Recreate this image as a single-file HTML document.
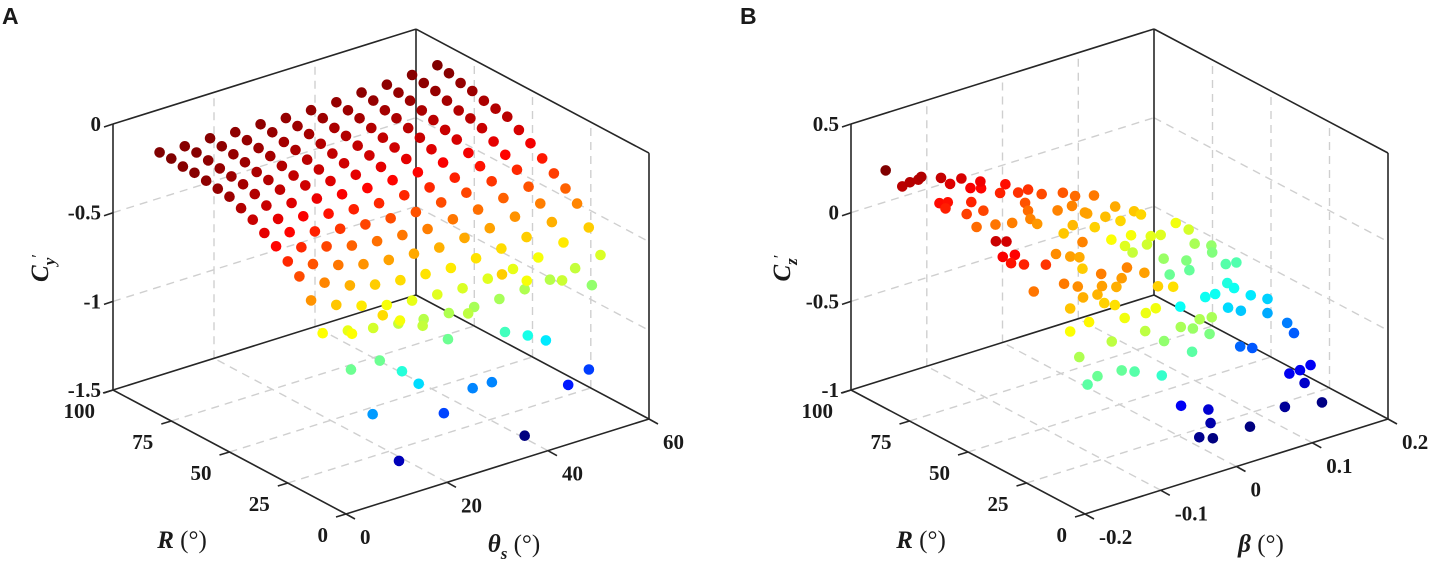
<!DOCTYPE html>
<html><head><meta charset="utf-8"><title>3D scatter panels</title>
<style>
html,body{margin:0;padding:0;background:#fff;}
svg{display:block;}
text{font-family:"Liberation Serif","DejaVu Serif",serif;fill:#1a1a1a;}
.tick{font-size:21px;font-weight:bold;}
.title{font-size:25px;}
.panel{font-family:"Liberation Sans",sans-serif;font-size:23px;font-weight:bold;}
</style></head>
<body>
<svg id="fig" width="1433" height="567" viewBox="0 0 1433 567" xmlns="http://www.w3.org/2000/svg">
  <text class="panel" x="2" y="24">A</text>
  <text class="panel" x="740" y="24">B</text>
  <g id="pa"></g>
  <g id="pb"></g>
  <text class="title" transform="translate(48,268) rotate(-90)" text-anchor="middle"><tspan font-weight="bold" font-style="italic">C</tspan><tspan font-weight="bold" font-style="italic" font-size="17" dy="7">y</tspan><tspan font-size="17" dy="-12">′</tspan></text>
  <text class="title" x="182" y="548" text-anchor="middle"><tspan font-weight="bold" font-style="italic">R</tspan> (°)</text>
  <text class="title" x="514" y="552" text-anchor="middle"><tspan font-weight="bold" font-style="italic">θ</tspan><tspan font-weight="bold" font-style="italic" font-size="17" dy="7">s</tspan><tspan dy="-7"> (°)</tspan></text>
  <text class="title" transform="translate(790,268) rotate(-90)" text-anchor="middle"><tspan font-weight="bold" font-style="italic">C</tspan><tspan font-weight="bold" font-style="italic" font-size="17" dy="7">z</tspan><tspan font-size="17" dy="-12">′</tspan></text>
  <text class="title" x="921" y="548" text-anchor="middle"><tspan font-weight="bold" font-style="italic">R</tspan> (°)</text>
  <text class="title" x="1261" y="552" text-anchor="middle"><tspan font-weight="bold" font-style="italic">β</tspan> (°)</text>
</svg>
<script>
// ---------- Panel A data ----------
const thetaA = [0,5,10,15,20,25,30,35,40,45,50,55];
const RA = [80,75,70,65,60,55,50,45,40,35,30,25,20,15,10];
const CyA = [
[-0.02,-0.03,-0.03,-0.04,-0.04,-0.05,-0.05,-0.05,-0.04,-0.04,-0.03,-0.02],
[-0.02,-0.03,-0.04,-0.05,-0.05,-0.06,-0.06,-0.06,-0.05,-0.05,-0.04,-0.03],
[-0.03,-0.04,-0.05,-0.06,-0.07,-0.07,-0.08,-0.07,-0.07,-0.06,-0.05,-0.05],
[-0.03,-0.05,-0.06,-0.07,-0.08,-0.09,-0.09,-0.09,-0.08,-0.08,-0.07,-0.06],
[-0.04,-0.06,-0.08,-0.09,-0.10,-0.11,-0.11,-0.11,-0.10,-0.10,-0.09,-0.08],
[-0.05,-0.07,-0.09,-0.11,-0.12,-0.13,-0.13,-0.13,-0.12,-0.12,-0.10,-0.09],
[-0.06,-0.09,-0.11,-0.13,-0.15,-0.16,-0.16,-0.16,-0.15,-0.14,-0.12,-0.10],
[-0.09,-0.12,-0.15,-0.17,-0.19,-0.20,-0.20,-0.20,-0.19,-0.18,-0.16,-0.14],
[-0.12,-0.16,-0.19,-0.22,-0.24,-0.25,-0.25,-0.25,-0.24,-0.22,-0.20,-0.18],
[-0.16,-0.20,-0.24,-0.27,-0.29,-0.30,-0.31,-0.30,-0.29,-0.27,-0.25,-0.23],
[-0.20,-0.25,-0.29,-0.33,-0.35,-0.36,-0.37,-0.36,-0.35,-0.33,-0.31,-0.28],
[-0.25,-0.31,-0.36,-0.40,-0.42,-0.43,-0.44,-0.43,-0.42,-0.40,-0.37,-0.33],
[-0.30,-0.38,-0.44,-0.48,-0.50,-0.51,-0.52,-0.51,-0.50,-0.48,-0.44,-0.38],
[-0.40,-0.47,-0.52,-0.56,-0.58,-0.59,-0.60,-0.59,-0.58,-0.56,-0.52,-0.48],
[-0.55,-0.58,-0.61,-0.63,-0.65,-0.66,-0.67,-0.67,-0.66,-0.65,-0.63,-0.60]
];
const lowTheta = [3.5,9.6,13.0,17.5,22.5,26.5,33.8,38.3,41.9,3.3,9.0,13.4,16.7,27.4,31.2,50.4,46.3,7.6,21.7,37.7,12.8,51.0,45.1,38.1,33.2];
const lowR = [5,5,5,5,5,5,5,5,5,5,5,5,5,5,5,5,5,5,5,5,5,5,5,5,5];
const lowCy = [-0.55,-0.50,-0.56,-0.63,-0.75,-0.64,-0.81,-0.87,-0.93,-0.75,-0.75,-0.85,-0.95,-1.07,-1.07,-1.17,-1.22,-1.04,-1.16,-1.43,-1.35,-0.70,-0.62,-0.56,-0.48];
const zTicksA = [0,-0.5,-1,-1.5];
const zTickLabelsA = ["0","-0.5","-1","-1.5"];
const rTicks = [0,25,50,75,100];
const rTickLabels = ["0","25","50","75","100"];
const thetaTicks = [0,20,40,60];
const thetaTickLabels = ["0","20","40","60"];

// ---------- Panel B data ----------
const RB = [80,80,80,80,80,80,80,80,80,80,80,80,80,80,80,80,80,80,40,40,40,40,40,40,40,40,80,80,80,80,80,80,80,80,80,80,80,80,60,40,40,40,40,60,60,60,80,80,60,80,40,40,40,40,40,40,80,80,80,80,80,80,80,80,80,80,40,40,40,40,40,40,80,80,80,80,80,80,80,80,40,40,40,40,40,40,40,80,40,40,80,80,80,80,80,80,80,80,40,40,40,40,40,40,40,80,80,80,80,80,80,80,80,80,40,40,40,80,80,80,80,80,80,80,80,80,80,80,80,80,80,80,80,80,80,80];
const betaB = [-0.216,-0.194,-0.184,-0.173,-0.169,-0.145,-0.134,-0.137,-0.109,-0.096,-0.143,-0.131,-0.116,-0.104,-0.090,-0.103,-0.087,-0.071,
-0.194,-0.180,-0.185,-0.169,-0.157,-0.174,-0.144,-0.128,
-0.049,-0.091,-0.065,-0.058,-0.041,-0.028,-0.032,-0.028,-0.025,-0.016,-0.010,0.011,
-0.053,-0.104,-0.096,-0.079,-0.086,-0.034,-0.022,-0.018,0.019,0.031,-0.018,0.050,
-0.060,-0.054,-0.055,-0.051,-0.037,-0.028,
0.018,0.034,0.030,0.047,0.060,0.074,0.082,0.100,0.108,0.110,
-0.021,0.002,-0.035,-0.071,-0.096,-0.084,
0.059,0.087,0.094,0.112,0.134,0.129,0.147,0.151,
0.020,0.040,-0.024,0.004,0.017,0.003,-0.041,0.173,0.050,0.028,
0.121,0.159,0.181,0.192,0.185,0.214,0.206,0.219,
0.075,0.091,0.066,-0.060,-0.073,-0.028,-0.011,
0.167,0.184,0.215,0.233,0.247,0.235,0.244,0.236,0.253,
0.088,0.065,0.025,
0.266,0.288,0.288,0.252,0.268,0.314,0.323,0.331,0.345,0.317,0.337,0.174,0.210,0.213,0.311,0.265,0.360,0.198,0.216];
const CzB = [0.40,0.28,0.29,0.29,0.30,0.12,0.11,0.08,0.01,-0.08,0.26,0.21,0.22,0.15,0.13,0.07,0.00,-0.10,0.25,0.23,0.15,0.14,0.07,0.10,-0.10,0.03,-0.12,0.17,0.07,0.11,0.04,0.04,-0.03,-0.08,-0.13,-0.17,-0.01,-0.13,-0.15,-0.11,-0.26,-0.22,-0.15,-0.19,-0.21,-0.28,-0.27,-0.24,-0.13,-0.20,-0.23,-0.19,-0.12,-0.29,-0.32,-0.18,-0.04,-0.08,-0.13,-0.19,-0.29,-0.25,-0.39,-0.45,-0.40,-0.50,-0.13,-0.19,-0.22,-0.37,-0.39,-0.55,-0.11,-0.21,-0.30,-0.27,-0.44,-0.48,-0.45,-0.59,-0.29,-0.32,-0.41,-0.42,-0.41,-0.52,-0.52,-0.89,-0.56,-0.61,-0.30,-0.69,-0.64,-0.56,-0.70,-0.60,-0.88,-0.88,-0.55,-0.56,-0.59,-0.69,-0.72,-0.70,-0.73,-0.41,-0.47,-0.64,-0.73,-0.74,-0.84,-0.88,-0.98,-1.02,-0.65,-0.72,-0.80,-0.95,-1.00,-1.08,-1.22,-1.25,-1.17,-1.24,-1.46,-1.45,-1.46,-1.54,-1.45,-1.52,-1.60,-1.64,-1.69,-1.68,-1.66,-1.69];
const zTicksB = [0.5,0,-0.5,-1];
const zTickLabelsB = ["0.5","0","-0.5","-1"];
const betaTicks = [-0.2,-0.1,0,0.1,0.2];
const betaTickLabels = ["-0.2","-0.1","0","0.1","0.2"];

const NS = "http://www.w3.org/2000/svg";
function jet(t){
  t = Math.max(0, Math.min(1, t));
  const c = v => Math.round(255*Math.max(0, Math.min(1, v)));
  return "rgb(" + c(1.5-Math.abs(4*t-3)) + "," + c(1.5-Math.abs(4*t-2)) + "," + c(1.5-Math.abs(4*t-1)) + ")";
}
function mk(parent, tag, attrs){
  const el = document.createElementNS(NS, tag);
  for (const k in attrs) el.setAttribute(k, attrs[k]);
  parent.appendChild(el);
  return el;
}

function drawAxes(g, P, rMax, hMin, hMax, zMin, zMax, hGrid, rGrid, zGrid, zT, zL, hT, hL, prefix){
  const gridG = mk(g, "g", {});
  
  
  function seg(parent, a, b, cls){
    const l = mk(parent, "line", {x1:a[0].toFixed(1), y1:a[1].toFixed(1), x2:b[0].toFixed(1), y2:b[1].toFixed(1)});
    if (cls === "grid"){ l.setAttribute("stroke", "#cfcfcf"); l.setAttribute("stroke-width", "1.4"); l.setAttribute("stroke-dasharray", "8,6"); }
    else { l.setAttribute("stroke", "#262626"); l.setAttribute("stroke-width", "1.6"); }
    return l;
  }
  hGrid.forEach(h => {
    const a = seg(gridG, P(rMax,h,zMin), P(rMax,h,zMax), "grid");
    
    
    const b = seg(gridG, P(0,h,zMin), P(rMax,h,zMin), "grid");
    
    
  });
  rGrid.forEach(r => {
    const a = seg(gridG, P(r,hMax,zMin), P(r,hMax,zMax), "grid");
    
    
    const b = seg(gridG, P(r,hMin,zMin), P(r,hMax,zMin), "grid");
    
    
  });
  zGrid.forEach(z => {
    const a = seg(gridG, P(rMax,hMin,z), P(rMax,hMax,z), "grid");
    
    
    const b = seg(gridG, P(rMax,hMax,z), P(0,hMax,z), "grid");
    
    
  });
  const boxG = mk(g, "g", {});
  
  
  const edges = [
    [P(rMax,hMin,zMin), P(rMax,hMin,zMax)],
    [P(rMax,hMax,zMin), P(rMax,hMax,zMax)],
    [P(0,hMax,zMin), P(0,hMax,zMax)],
    [P(rMax,hMin,zMax), P(rMax,hMax,zMax)],
    [P(rMax,hMax,zMax), P(0,hMax,zMax)],
    [P(rMax,hMin,zMin), P(rMax,hMax,zMin)],
    [P(rMax,hMax,zMin), P(0,hMax,zMin)],
    [P(rMax,hMin,zMin), P(0,hMin,zMin)],
    [P(0,hMin,zMin), P(0,hMax,zMin)]
  ];
  edges.forEach(e => {
    const l = seg(boxG, e[0], e[1], "box");
    
    
  });
  zT.forEach((z, i) => {
    const p = P(rMax,hMin,z);
    const l = seg(boxG, p, [p[0]-9, p[1]+3], "box");
    
    
    const t = mk(g, "text", {x:(p[0]-12).toFixed(1), y:(p[1]+7).toFixed(1), "text-anchor":"end", "class":"tick"});
    t.textContent = zL[i];
    
    
  });
  rTicks.forEach((r, i) => {
    const p = P(r,hMin,zMin);
    const l = seg(boxG, p, [p[0]-10, p[1]+3], "box");
    
    
    const t = mk(g, "text", {x:(p[0]-18).toFixed(1), y:(p[1]+28).toFixed(1), "text-anchor":"end", "class":"tick"});
    t.textContent = rTickLabels[i];
    
    
  });
  hT.forEach((h, i) => {
    const p = P(0,h,zMin);
    const l = seg(boxG, p, [p[0]+9, p[1]+5], "box");
    
    
    const t = mk(g, "text", {x:(p[0]+14).toFixed(1), y:(p[1]+30).toFixed(1), "text-anchor":"start", "class":"tick"});
    t.textContent = hL[i];
    
    
  });
}

// ---------- Panel A ----------
(function(){
  const g = document.getElementById("pa");
  const PA = (r, th, z) => [346 - 2.33*r + 5.05*th, 514 - 1.24*r - 1.583*th - 177.3*(z + 1.5)];
  drawAxes(g, PA, 100, 0, 60, -1.5, 0, [20,40], [25,50,75], [-0.5,-1], zTicksA, zTickLabelsA, thetaTicks, thetaTickLabels, "panel-a");
  let all = [];
  CyA.forEach(row => row.forEach(v => all.push(v)));
  lowCy.forEach(v => all.push(v));
  const mn = Math.min(...all), mx = Math.max(...all);
  const dots = mk(g, "g", {});
  
  
  for (let i = 0; i < RA.length; i++){
    for (let j = 0; j < thetaA.length; j++){
      const v = CyA[i][j];
      const p = PA(RA[i], thetaA[j], v);
      const c = mk(dots, "circle", {cx:p[0].toFixed(1), cy:p[1].toFixed(1), r:"5.3", fill:jet((v-mn)/(mx-mn))});
      
      
    }
  }
  for (let k = 0; k < lowCy.length; k++){
    const p = PA(lowR[k], lowTheta[k], lowCy[k]);
    const c = mk(dots, "circle", {cx:p[0].toFixed(1), cy:p[1].toFixed(1), r:"5.3", fill:jet((lowCy[k]-mn)/(mx-mn))});
    
    
  }
})();

// ---------- Panel B ----------
(function(){
  const g = document.getElementById("pb");
  const PB = (r, b, z) => [1085 - 2.34*r + 757.5*(b + 0.2), 514 - 1.24*r - 237.5*(b + 0.2) - 177.3*(z + 1)];
  drawAxes(g, PB, 100, -0.2, 0.2, -1, 0.5, [-0.1,0,0.1], [25,50,75], [0,-0.5], zTicksB, zTickLabelsB, betaTicks, betaTickLabels, "panel-b");
  const mn = Math.min(...CzB), mx = Math.max(...CzB);
  const dots = mk(g, "g", {});
  
  
  for (let k = 0; k < CzB.length; k++){
    const p = PB(RB[k], betaB[k], CzB[k]);
    const c = mk(dots, "circle", {cx:p[0].toFixed(1), cy:p[1].toFixed(1), r:"5.3", fill:jet((CzB[k]-mn)/(mx-mn))});
    
    
  }
})();
</script>
</body></html>
